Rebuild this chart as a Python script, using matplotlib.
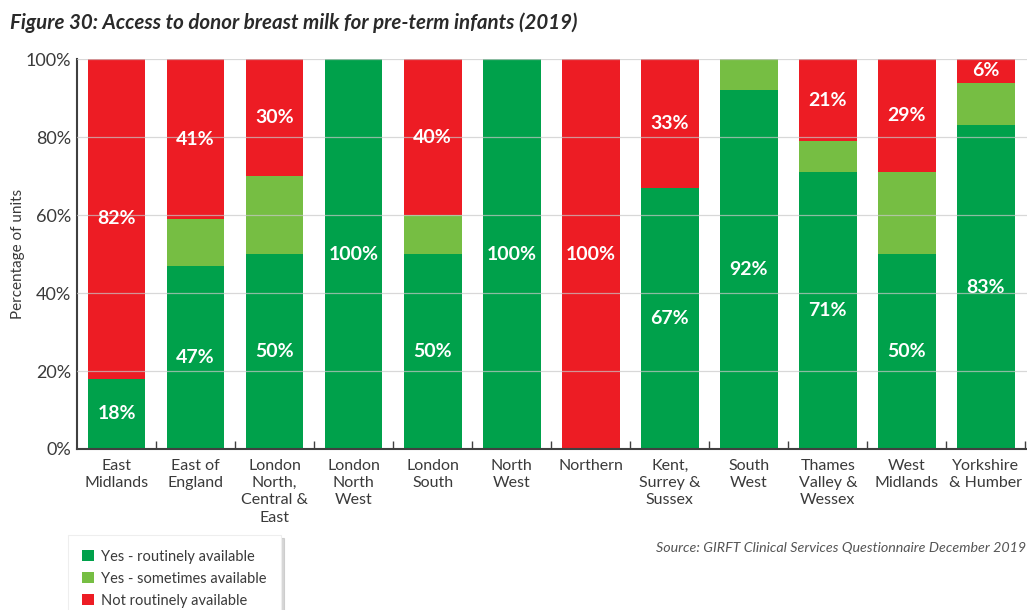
import matplotlib
matplotlib.use("Agg")
import matplotlib.pyplot as plt
import numpy as np

plt.rcParams['font.family'] = ['Lato', 'DejaVu Sans']

categories = ["East\nMidlands", "East of\nEngland", "London\nNorth,\nCentral &\nEast",
              "London\nNorth\nWest", "London\nSouth", "North\nWest", "Northern",
              "Kent,\nSurrey &\nSussex", "South\nWest", "Thames\nValley &\nWessex",
              "West\nMidlands", "Yorkshire\n& Humber"]
routine = [18, 47, 50, 100, 50, 100, 0, 67, 92, 71, 50, 83]
sometimes = [0, 12, 20, 0, 10, 0, 0, 0, 8, 8, 21, 11]
not_routine = [82, 41, 30, 0, 40, 0, 100, 33, 0, 21, 29, 6]
series_names = ["Yes - routinely available", "Yes - sometimes available", "Not routinely available"]
colors = ["#00A14B", "#76BE43", "#ED1C24"]
yticks = [0, 20, 40, 60, 80, 100]

fig = plt.figure(figsize=(10.27, 6.10), dpi=100)
ax = fig.add_axes([0.075, 0.264, 0.925, 0.639])

x = np.arange(len(categories))
w = 0.73
text_col = "#3a3a3a"
b1 = ax.bar(x, routine, w, color=colors[0], label=series_names[0], zorder=2)
b2 = ax.bar(x, sometimes, w, bottom=routine, color=colors[1], label=series_names[1], zorder=2)
bot3 = np.array(routine) + np.array(sometimes)
b3 = ax.bar(x, not_routine, w, bottom=bot3, color=colors[2], label=series_names[2], zorder=2)

for i in range(len(x)):
    if routine[i] > 0:
        ax.text(x[i], routine[i] / 2, f"{routine[i]}%", ha="center", va="center",
                color="white", fontsize=14, fontweight="bold", zorder=4)
    if not_routine[i] > 0:
        ax.text(x[i], bot3[i] + not_routine[i] / 2, f"{not_routine[i]}%", ha="center", va="center",
                color="white", fontsize=14, fontweight="bold", zorder=4)

ax.set_xlim(-0.5, 11.52)
ax.set_ylim(0, 100)
ax.set_yticks(yticks)
ax.set_yticklabels([f"{v}%" for v in yticks], fontsize=13, color=text_col)
for v in yticks[1:]:
    ax.axhline(v, color="#c8c8c8", lw=0.9, alpha=0.7, zorder=3)
ax.tick_params(axis="y", length=0, pad=4)
ax.set_xticks(x)
ax.set_xticklabels(categories, fontsize=11.5, color=text_col, linespacing=1.3)
ax.tick_params(axis="x", which="major", length=0, pad=7)
ax.set_xticks(np.arange(0.5, 12, 1), minor=True)
ax.tick_params(axis="x", which="minor", direction="in", length=6, color="#404040", width=1)
for s in ["top", "right"]:
    ax.spines[s].set_visible(False)
for s in ["left", "bottom"]:
    ax.spines[s].set_color("#404040")
    ax.spines[s].set_linewidth(1.5)
ax.set_ylabel("Percentage of units", fontsize=11, color=text_col, labelpad=1)

fig.text(0.01, 0.962, "Figure 30: Access to donor breast milk for pre-term infants (2019)",
         fontsize=14.8, fontweight="bold", fontstyle="italic", color="#2a2a2a", va="center")

fig.text(0.9995, 0.101, "Source: GIRFT Clinical Services Questionnaire December 2019",
         fontsize=10.3, fontstyle="italic", color="#555555", ha="right", va="center")

leg = fig.legend(handles=[b1, b2, b3], labels=series_names, loc="lower left",
                 bbox_to_anchor=(0.066, -0.02), borderaxespad=0, fontsize=10.5, frameon=True,
                 fancybox=False, shadow={'color': '#bbbbbb', 'alpha': 0.6},
                 handlelength=0.8, handleheight=0.8,
                 handletextpad=0.5, labelspacing=0.55, borderpad=1.0,
                 labelcolor=text_col)
leg.get_frame().set_edgecolor("#eeeeee")
leg.get_frame().set_linewidth(0.8)

fig.savefig("out.png", dpi=100)
